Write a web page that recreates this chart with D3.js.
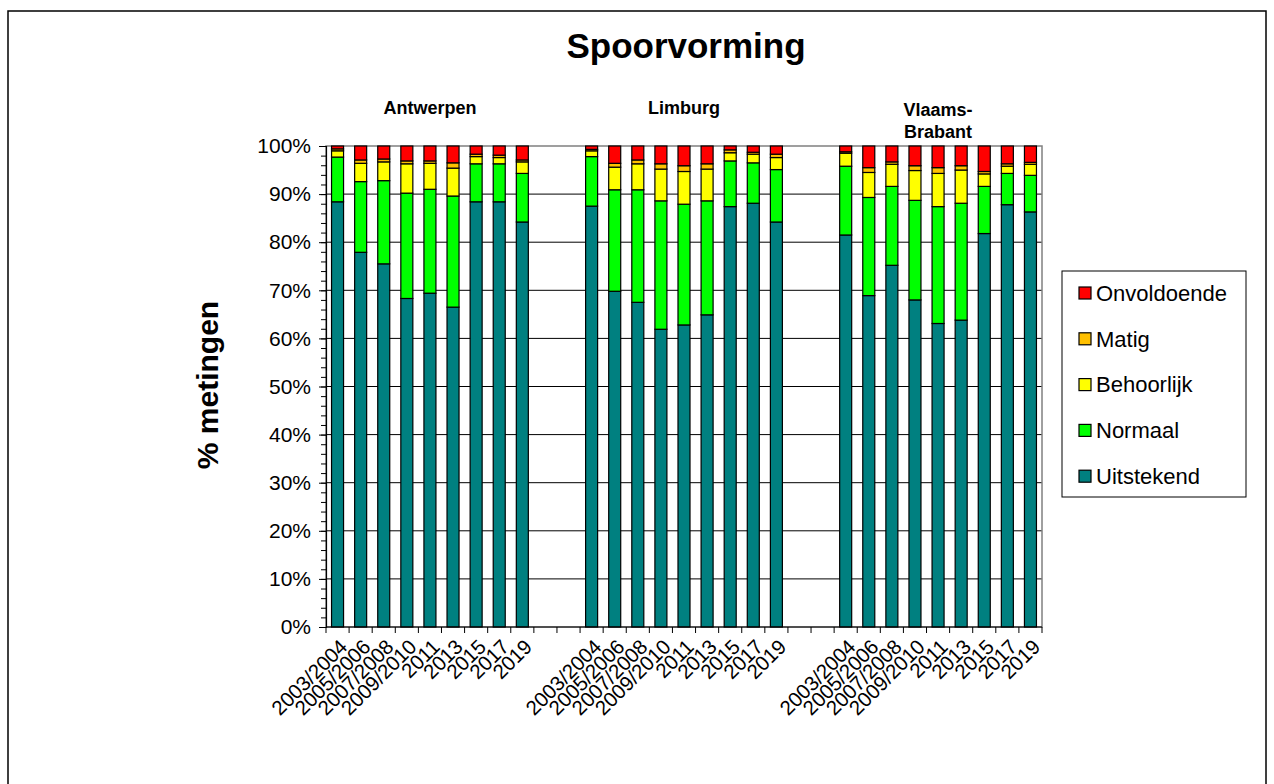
<!DOCTYPE html>
<html>
<head>
<meta charset="utf-8">
<script src="https://cdn.jsdelivr.net/npm/d3@7"></script>
<style>
  body { margin: 0; background: #fff; }
  svg text { font-family: Arial, "Liberation Sans", sans-serif; fill: #000; }
</style>
</head>
<body>
<svg id="chart" width="1274" height="784"></svg>
<script>
'use strict';

// regions and years, as on the category axis
var regions = ['Antwerpen', 'Limburg', 'Vlaams-Brabant'];
var regionLabels = [['Antwerpen'], ['Limburg'], ['Vlaams-', 'Brabant']];
var years = ['2003/2004', '2005/2006', '2007/2008', '2009/2010', '2011', '2013', '2015', '2017', '2019'];
var yTicks = [0, 10, 20, 30, 40, 50, 60, 70, 80, 90, 100];

// % metingen per class, 9 years for Antwerpen, then Limburg, then Vlaams-Brabant
var uitstekend = [88.4, 77.9, 75.5, 68.3, 69.4, 66.5, 88.4, 88.4, 84.2,
                  87.5, 69.8, 67.5, 61.9, 62.8, 64.9, 87.4, 88.1, 84.2,
                  81.5, 68.9, 75.2, 68.0, 63.1, 63.8, 81.8, 87.8, 86.3];
var normaal    = [9.3, 14.7, 17.3, 21.9, 21.6, 23.1, 7.9, 7.9, 10.1,
                  10.3, 21.1, 23.4, 26.7, 25.1, 23.7, 9.5, 8.4, 10.9,
                  14.3, 20.4, 16.4, 20.7, 24.3, 24.3, 9.8, 6.5, 7.6];
var behoorlijk = [1.3, 3.8, 3.9, 6.1, 5.4, 5.8, 1.5, 1.3, 2.4,
                  1.2, 4.7, 5.4, 6.6, 6.8, 6.6, 1.7, 1.8, 2.5,
                  2.7, 5.2, 4.6, 6.2, 6.9, 6.9, 2.6, 1.5, 2.3];
var matig      = [0.4, 0.7, 0.6, 0.6, 0.5, 1.1, 0.5, 0.5, 0.4,
                  0.3, 0.8, 0.8, 1.1, 1.2, 1.1, 0.6, 0.4, 0.7,
                  0.3, 1.0, 0.5, 1.0, 1.2, 0.9, 0.5, 0.5, 0.4];
var onvoldoende = [0.6, 2.9, 2.7, 3.1, 3.1, 3.5, 1.7, 1.9, 2.9,
                  0.7, 3.6, 2.9, 3.7, 4.1, 3.7, 0.8, 1.3, 1.7,
                  1.2, 4.5, 3.3, 4.1, 4.5, 4.1, 5.3, 3.7, 3.4];

var seriesNames = ['Uitstekend', 'Normaal', 'Behoorlijk', 'Matig', 'Onvoldoende'];
var seriesColors = ['#008080', '#00ff00', '#ffff00', '#ffc000', '#ff0000'];
var seriesValues = [uitstekend, normaal, behoorlijk, matig, onvoldoende];

var svg = d3.select('#chart');
var margin = { left: 326, right: 1042, top: 146, bottom: 627 };

// frame round the whole chart
svg.append('rect')
  .attr('x', 8).attr('y', 11).attr('width', 1258).attr('height', 800)
  .attr('fill', 'none').attr('stroke', '#000').attr('stroke-width', 1.5);

// slots: 9 years per region, two empty slots between regions
var slots = [];
var rows = [];
regions.forEach(function (r, ri) {
  if (ri > 0) { slots.push('gap' + ri + 'a'); slots.push('gap' + ri + 'b'); }
  years.forEach(function (yr, yi) {
    var key = r + '|' + yr;
    slots.push(key);
    var row = { key: key, region: r, year: yr };
    seriesNames.forEach(function (s, si) { row[s] = seriesValues[si][ri * years.length + yi]; });
    rows.push(row);
  });
});

var x = d3.scaleBand().domain(slots).range([margin.left, margin.right]).paddingInner(0).paddingOuter(0);
var y = d3.scaleLinear().domain([0, 100]).range([margin.bottom, margin.top]);
var barW = x.bandwidth() * 0.52;

// gridlines
svg.append('g').selectAll('line').data(yTicks.slice(1, -1)).enter().append('line')
  .attr('x1', margin.left).attr('x2', margin.right)
  .attr('y1', function (d) { return y(d); }).attr('y2', function (d) { return y(d); })
  .attr('stroke', '#000').attr('stroke-width', 1);

// plot area border (grey)
svg.append('rect')
  .attr('x', margin.left).attr('y', margin.top)
  .attr('width', margin.right - margin.left).attr('height', margin.bottom - margin.top)
  .attr('fill', 'none').attr('stroke', '#808080').attr('stroke-width', 1.5);

// stacked bars
var stack = d3.stack().keys(seriesNames);
var layers = stack(rows);
svg.append('g').selectAll('g').data(layers).enter().append('g')
  .attr('fill', function (d, i) { return seriesColors[i]; })
  .selectAll('rect').data(function (d) { return d; }).enter().append('rect')
  .attr('x', function (d) { return x(d.data.key) + (x.bandwidth() - barW) / 2; })
  .attr('width', barW)
  .attr('y', function (d) { return y(d[1]); })
  .attr('height', function (d) { return y(d[0]) - y(d[1]); })
  .attr('stroke', '#000').attr('stroke-width', 1.2);

// y axis with minor ticks
var minorTicks = d3.range(0, 101, 2);
svg.append('g').attr('transform', 'translate(' + margin.left + ',0)')
  .call(d3.axisLeft(y).tickValues(minorTicks).tickSize(5).tickFormat(''))
  .call(function (g) { g.select('.domain').remove(); g.selectAll('line').attr('stroke', '#000'); });
svg.append('g').attr('transform', 'translate(' + margin.left + ',0)')
  .call(d3.axisLeft(y).tickValues(yTicks).tickSize(7).tickPadding(8).tickFormat(function (d) { return d + '%'; }))
  .call(function (g) {
    g.select('.domain').attr('stroke', '#000').attr('stroke-width', 1.2);
    g.selectAll('line').attr('stroke', '#000');
    g.selectAll('text').attr('font-size', '21px').attr('fill', '#000');
  });

// x axis: tick marks at slot borders, labels only under real bars
var xAxis = svg.append('g').attr('transform', 'translate(0,' + margin.bottom + ')');
xAxis.append('line').attr('x1', margin.left).attr('x2', margin.right)
  .attr('stroke', '#000').attr('stroke-width', 1.2);
xAxis.selectAll('line.tick').data(slots.concat(['end'])).enter().append('line')
  .attr('class', 'tick')
  .attr('x1', function (d, i) { return margin.left + i * x.step(); })
  .attr('x2', function (d, i) { return margin.left + i * x.step(); })
  .attr('y1', 0).attr('y2', 6).attr('stroke', '#000');
xAxis.selectAll('text').data(rows).enter().append('text')
  .attr('transform', function (d) {
    return 'translate(' + (x(d.key) + x.bandwidth() / 2 + 6) + ',16) rotate(-45)';
  })
  .attr('text-anchor', 'end').attr('dy', '0.35em')
  .attr('font-size', '20.5px')
  .text(function (d) { return d.year; });

// region headings
regions.forEach(function (r, ri) {
  var first = x(r + '|' + years[0]);
  var last = x(r + '|' + years[years.length - 1]) + x.bandwidth();
  var t = svg.append('text').attr('x', (first + last) / 2).attr('y', regionLabels[ri].length > 1 ? 116 : 114)
    .attr('text-anchor', 'middle').attr('font-size', '18px').attr('font-weight', 'bold');
  regionLabels[ri].forEach(function (line, li) {
    t.append('tspan').attr('x', (first + last) / 2).attr('dy', li === 0 ? 0 : '1.2em').text(line);
  });
});

// title and axis label
svg.append('text').attr('x', 686).attr('y', 58).attr('text-anchor', 'middle')
  .attr('font-size', '35px').attr('font-weight', 'bold').text('Spoorvorming');
svg.append('text').attr('transform', 'translate(218,385) rotate(-90)').attr('text-anchor', 'middle')
  .attr('font-size', '30px').attr('font-weight', 'bold').text('% metingen');

// legend, top entry is Onvoldoende
var legend = svg.append('g').attr('transform', 'translate(1062,271)');
legend.append('rect').attr('width', 184).attr('height', 226)
  .attr('fill', '#fff').attr('stroke', '#000').attr('stroke-width', 1);
var legendOrder = seriesNames.slice().reverse();
var items = legend.selectAll('g').data(legendOrder).enter().append('g')
  .attr('transform', function (d, i) { return 'translate(17,' + (22 + i * 45.8) + ')'; });
items.append('rect').attr('width', 12).attr('height', 12).attr('y', -6)
  .attr('fill', function (d) { return seriesColors[seriesNames.indexOf(d)]; })
  .attr('stroke', '#000').attr('stroke-width', 1.2);
items.append('text').attr('x', 17).attr('dy', '0.35em').attr('font-size', '22px')
  .text(function (d) { return d; });
</script>
</body>
</html>
